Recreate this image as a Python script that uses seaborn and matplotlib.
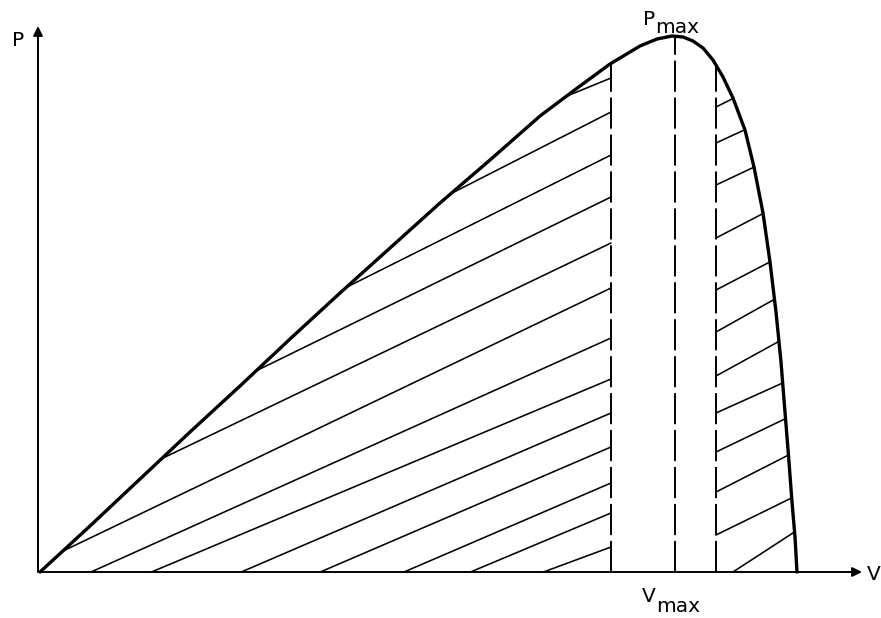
import numpy as np
import matplotlib
matplotlib.use("Agg")
import matplotlib.pyplot as plt
from matplotlib.patches import Polygon
import seaborn as sns

# P-V curve (arbitrary units)
volt = [0.00, 0.50, 1.00, 1.50, 2.00, 2.50, 3.00, 3.50, 4.00, 4.50, 5.00, 5.40,
        5.70, 6.00, 6.17, 6.32, 6.43, 6.53, 6.63, 6.73, 6.83, 6.93, 7.05, 7.14,
        7.23, 7.30, 7.36, 7.41, 7.45, 7.49, 7.52, 7.55, 7.57]
power = [0.00, 0.46, 0.93, 1.40, 1.86, 2.33, 2.79, 3.24, 3.69, 4.12, 4.56, 4.86,
         5.08, 5.26, 5.33, 5.36, 5.35, 5.31, 5.24, 5.12, 4.95, 4.74, 4.42, 4.05,
         3.59, 3.10, 2.60, 2.10, 1.60, 1.10, 0.70, 0.35, 0.00]

# dashed verticals: left edge of band, V at Pmax, right edge of band
v_left, v_mp, v_right = 5.71, 6.35, 6.76

# hatch lines: height where each meets the dashed line, and its slope
hatch_left_p = [4.94, 4.60, 4.17, 3.75, 3.29, 2.84, 2.34, 1.93, 1.59, 1.25, 0.89, 0.59, 0.25]
hatch_left_slope = [0.41, 0.51, 0.50, 0.49, 0.48, 0.48, 0.45, 0.42, 0.43, 0.43, 0.43, 0.42, 0.37]
hatch_right_p = [4.65, 4.29, 3.87, 3.34, 2.82, 2.40, 1.96, 1.59, 1.20, 0.80, 0.37, -0.11]
hatch_right_slope = [0.50, 0.46, 0.47, 0.52, 0.52, 0.56, 0.55, 0.45, 0.48, 0.51, 0.49, 0.65]

sns.set_style("white")
plt.rcParams["font.family"] = ["DejaVu Sans"]
plt.rcParams["text.color"] = "black"

fig = plt.figure(figsize=(8.81, 6.18), dpi=100)
ax = fig.add_axes([0, 0, 1, 1])
ax.set_xlim(-0.40, 8.41)
ax.set_ylim(-0.46, 5.72)
ax.axis("off")

# region under the curve, used to clip the hatching
region = Polygon(np.column_stack([volt, power]), closed=True, fill=False,
                 edgecolor="none", transform=ax.transData)
ax.add_patch(region)

v_end = max(volt) + 0.3
for p, s in zip(hatch_left_p, hatch_left_slope):
    xs = np.array([0.0, v_left])
    ln, = ax.plot(xs, p - s * (v_left - xs), color="black", lw=1.15)
    ln.set_clip_path(region)
for p, s in zip(hatch_right_p, hatch_right_slope):
    xs = np.array([v_right, v_end])
    ln, = ax.plot(xs, p + s * (xs - v_right), color="black", lw=1.15)
    ln.set_clip_path(region)

for v in (v_left, v_mp, v_right):
    top = np.interp(v, volt, power)
    ax.plot([v, v], [0, top], color="black", lw=1.4, linestyle=(0, (16, 3)))

# axes with arrows
arrow = dict(arrowstyle="-|>", color="black", lw=1.4, mutation_scale=14, shrinkA=0, shrinkB=0)
ax.annotate("", xy=(8.22, 0), xytext=(-0.01, 0), arrowprops=arrow)
ax.annotate("", xy=(-0.02, 5.46), xytext=(-0.02, 0), arrowprops=arrow)

sns.lineplot(x=volt, y=power, sort=False, estimator=None, color="black",
             lw=2.4, ax=ax, legend=False)

fs = 14.5
ax.text(-0.215, 5.26, "P", fontsize=fs, ha="center", va="baseline")
ax.text(8.27, -0.08, "V", fontsize=fs, ha="left", va="baseline")
ax.text(6.16, -0.30, "V", fontsize=fs, ha="right", va="baseline")
ax.text(6.16, -0.40, "max", fontsize=fs, ha="left", va="baseline")
ax.text(6.15, 5.47, "P", fontsize=fs, ha="right", va="baseline")
ax.text(6.15, 5.39, "max", fontsize=fs, ha="left", va="baseline")

fig.savefig("out.png", dpi=100)
